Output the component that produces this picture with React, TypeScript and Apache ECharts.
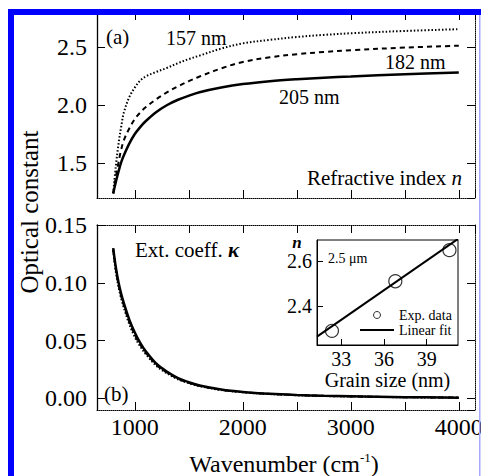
import React, { useEffect, useRef } from "react";
import * as echarts from "echarts";

// ---- data ----
const wavenumbers = [800, 825, 850, 875, 900, 950, 1000, 1050, 1100, 1200, 1300, 1400, 1500, 1600, 1800, 2000, 2250, 2500, 2750, 3000, 3500, 4000];
const n157 = [1.24, 1.48, 1.67, 1.82, 1.94, 2.07, 2.15, 2.21, 2.245, 2.285, 2.32, 2.36, 2.395, 2.425, 2.485, 2.53, 2.56, 2.585, 2.603, 2.617, 2.637, 2.652];
const n182 = [1.24, 1.38, 1.51, 1.62, 1.7, 1.8, 1.88, 1.935, 1.98, 2.05, 2.11, 2.16, 2.205, 2.245, 2.315, 2.37, 2.41, 2.437, 2.456, 2.471, 2.494, 2.51];
const n205 = [1.24, 1.34, 1.43, 1.51, 1.57, 1.67, 1.75, 1.81, 1.86, 1.94, 2.0, 2.045, 2.08, 2.11, 2.15, 2.18, 2.205, 2.222, 2.235, 2.245, 2.265, 2.28];
const k205 = [0.13, 0.113, 0.1, 0.09, 0.082, 0.068, 0.057, 0.048, 0.041, 0.03, 0.023, 0.0175, 0.014, 0.0112, 0.0077, 0.0056, 0.004, 0.003, 0.0023, 0.0018, 0.0011, 0.0007];
const k182 = [0.129, 0.111, 0.098, 0.088, 0.08, 0.066, 0.055, 0.0465, 0.0398, 0.0291, 0.0223, 0.017, 0.0136, 0.0109, 0.0075, 0.0055, 0.0039, 0.0029, 0.0022, 0.0017, 0.0011, 0.0007];
const k157 = [0.128, 0.109, 0.096, 0.086, 0.078, 0.064, 0.053, 0.045, 0.0385, 0.0282, 0.0216, 0.0165, 0.0132, 0.0106, 0.0073, 0.0053, 0.0038, 0.0028, 0.0021, 0.0017, 0.001, 0.0007];

const grainSizes = [32.35, 36.8, 40.6];
const nExp = [2.29, 2.51, 2.648];
const fitGrain = [31.3, 41.2];
const fitN = [2.264, 2.698];

const sizeLabels = ["157 nm", "182 nm", "205 nm"];
const inXTicks = [33, 36, 39];

const FONT = "Liberation Serif";

const pairs = (xs: number[], ys: number[]) => xs.map((x, i) => [x, ys[i]]);

const mainX = (gridIndex: number, position: string, showLabels: boolean) => ({
  type: "value",
  gridIndex,
  position,
  min: 650,
  max: 4150,
  splitNumber: 7,
  minInterval: 500,
  maxInterval: 500,
  axisLine: { show: true, onZero: false, lineStyle: { color: "#000", width: 1, type: [1, 1] } },
  axisTick: { show: true, inside: true, length: 8, lineStyle: { color: "#000", width: 1 } },
  axisLabel: {
    show: showLabels,
    showMinLabel: false,
    showMaxLabel: false,
    formatter: (v: number) => (v % 1000 === 0 ? String(v) : ""),
    fontSize: 24,
    fontFamily: FONT,
    color: "#000",
    margin: 5,
  },
  splitLine: { show: false },
});

const mainY = (
  gridIndex: number,
  position: string,
  min: number,
  max: number,
  step: number,
  digits: number,
  showLabels: boolean,
  showMax: boolean
) => ({
  type: "value",
  gridIndex,
  position,
  min,
  max,
  splitNumber: 4,
  minInterval: step,
  maxInterval: step,
  axisLine: {
    show: true,
    onZero: false,
    lineStyle: { color: "#000", width: position === "left" ? 1.3 : 1, type: position === "left" ? "solid" : [1, 1] },
  },
  axisTick: { show: true, inside: true, length: 8, lineStyle: { color: "#000", width: 1 } },
  axisLabel: {
    show: showLabels,
    showMinLabel: false,
    showMaxLabel: showMax,
    formatter: (v: number) => Math.abs(v).toFixed(digits),
    fontSize: 24,
    fontFamily: FONT,
    color: "#000",
    margin: 10,
  },
  splitLine: { show: false },
});

export default function App() {
  const ref = useRef<HTMLDivElement>(null);

  useEffect(() => {
    if (!ref.current) return;
    const chart = echarts.init(ref.current, undefined, { renderer: "svg" });

    const lineBase = {
      type: "line",
      showSymbol: false,
      symbol: "none",
      smooth: 0.35,
      animation: false,
    };

    const option: any = {
      animation: false,
      backgroundColor: "#fff",
      textStyle: { fontFamily: FONT, color: "#000" },
      grid: [
        { left: 97, top: 12, width: 378, height: 186, outerBoundsMode: "none" },
        { left: 97, top: 225, width: 378, height: 185, outerBoundsMode: "none" },
        {
          left: 317,
          top: 240,
          width: 141,
          height: 105,
          show: true,
          backgroundColor: "#fff",
          borderColor: "#000",
          borderWidth: 1,
          outerBoundsMode: "none",
          z: 5,
        },
      ],
      xAxis: [
        mainX(0, "bottom", false),
        mainX(0, "top", false),
        mainX(1, "bottom", true),
        mainX(1, "top", false),
        {
          type: "value",
          gridIndex: 2,
          position: "bottom",
          min: 31.3,
          max: 41.2,
          splitNumber: 3,
          minInterval: 3,
          maxInterval: 3,
          z: 6,
          name: "Grain size (nm)",
          nameLocation: "middle",
          nameGap: 25,
          nameTextStyle: { fontSize: 20, fontFamily: FONT, color: "#000" },
          axisLine: { show: true, onZero: false, lineStyle: { color: "#000", width: 1 } },
          axisTick: { show: true, inside: true, length: 6, lineStyle: { color: "#000" } },
          axisLabel: {
            showMinLabel: false,
            showMaxLabel: false,
            formatter: (v: number) => (inXTicks.includes(v) ? String(v) : ""),
            fontSize: 20,
            fontFamily: FONT,
            color: "#000",
            margin: 4,
          },
          splitLine: { show: false },
        },
      ],
      yAxis: [
        mainY(0, "left", 1.2, 2.8, 0.5, 1, true, false),
        mainY(0, "right", 1.2, 2.8, 0.5, 1, false, false),
        mainY(1, "left", -0.01, 0.15, 0.05, 2, true, true),
        mainY(1, "right", -0.01, 0.15, 0.05, 2, false, false),
        {
          type: "value",
          gridIndex: 2,
          position: "left",
          min: 2.227,
          max: 2.693,
          splitNumber: 2,
          minInterval: 0.2,
          maxInterval: 0.2,
          z: 6,
          axisLine: { show: true, onZero: false, lineStyle: { color: "#000", width: 1 } },
          axisTick: { show: true, inside: true, length: 6, lineStyle: { color: "#000" } },
          axisLabel: {
            showMinLabel: false,
            showMaxLabel: false,
            formatter: (v: number) => v.toFixed(1),
            fontSize: 20,
            fontFamily: FONT,
            color: "#000",
            margin: 5,
          },
          splitLine: { show: false },
        },
      ],
      legend: {
        data: [
          {
            name: "Exp. data",
            icon: "circle",
            itemStyle: { color: "rgba(255,255,255,0)", borderColor: "#000", borderWidth: 1 },
          },
          { name: "Linear fit", icon: "path://M0,0 L34,0 L34,2 L0,2 Z", itemStyle: { color: "#000" } },
        ],
        orient: "vertical",
        left: 360,
        top: 308,
        padding: 0,
        itemGap: 1,
        itemWidth: 34,
        itemHeight: 7,
        textStyle: { fontSize: 14, fontFamily: FONT, color: "#000" },
        z: 10,
      },
      series: [
        {
          ...lineBase,
          name: sizeLabels[0],
          xAxisIndex: 0,
          yAxisIndex: 0,
          data: pairs(wavenumbers, n157),
          lineStyle: { color: "#000", width: 2, type: [1.5, 2] },
        },
        {
          ...lineBase,
          name: sizeLabels[1],
          xAxisIndex: 0,
          yAxisIndex: 0,
          data: pairs(wavenumbers, n182),
          lineStyle: { color: "#000", width: 2, type: [5, 4] },
        },
        {
          ...lineBase,
          name: sizeLabels[2],
          xAxisIndex: 0,
          yAxisIndex: 0,
          data: pairs(wavenumbers, n205),
          lineStyle: { color: "#000", width: 2.5 },
        },
        {
          ...lineBase,
          name: "k157",
          xAxisIndex: 2,
          yAxisIndex: 2,
          data: pairs(wavenumbers, k157),
          lineStyle: { color: "#000", width: 2, type: [1.5, 2] },
        },
        {
          ...lineBase,
          name: "k182",
          xAxisIndex: 2,
          yAxisIndex: 2,
          data: pairs(wavenumbers, k182),
          lineStyle: { color: "#000", width: 2, type: [5, 4] },
        },
        {
          ...lineBase,
          name: "k205",
          xAxisIndex: 2,
          yAxisIndex: 2,
          data: pairs(wavenumbers, k205),
          lineStyle: { color: "#000", width: 2.5 },
        },
        {
          type: "line",
          name: "Linear fit",
          xAxisIndex: 4,
          yAxisIndex: 4,
          showSymbol: false,
          symbol: "none",
          data: pairs(fitGrain, fitN),
          lineStyle: { color: "#000", width: 2 },
          itemStyle: { color: "#000" },
          z: 7,
        },
        {
          type: "scatter",
          name: "Exp. data",
          xAxisIndex: 4,
          yAxisIndex: 4,
          symbol: "circle",
          symbolSize: 13,
          data: pairs(grainSizes, nExp),
          itemStyle: { color: "rgba(255,255,255,0)", borderColor: "#000", borderWidth: 1.2 },
          z: 8,
        },
      ],
      graphic: [
        { type: "text", x: 106, y: 37, style: { text: "(a)", fontSize: 21, fontFamily: FONT, fill: "#000", verticalAlign: "middle" } },
        { type: "text", x: 166, y: 38, style: { text: sizeLabels[0], fontSize: 20, fontFamily: FONT, fill: "#000", verticalAlign: "middle" } },
        { type: "text", x: 385, y: 62, style: { text: sizeLabels[1], fontSize: 20, fontFamily: FONT, fill: "#000", verticalAlign: "middle" } },
        { type: "text", x: 279, y: 97, style: { text: sizeLabels[2], fontSize: 20, fontFamily: FONT, fill: "#000", verticalAlign: "middle" } },
        {
          type: "text",
          x: 462,
          y: 178,
          style: {
            text: "{a|Refractive index }{i|n}",
            align: "right",
            verticalAlign: "middle",
            fontFamily: FONT,
            rich: {
              a: { fontSize: 21, fontFamily: FONT, color: "#000" },
              i: { fontSize: 21, fontFamily: FONT, fontStyle: "italic", color: "#000" },
            },
          },
        },
        {
          type: "text",
          x: 135,
          y: 250,
          style: {
            text: "{a|Ext. coeff. }{i|κ}",
            verticalAlign: "middle",
            fontFamily: FONT,
            rich: {
              a: { fontSize: 21, fontFamily: FONT, color: "#000" },
              i: { fontSize: 21, fontFamily: FONT, fontStyle: "italic", fontWeight: "bold", color: "#000" },
            },
          },
        },
        { type: "text", x: 104, y: 394, style: { text: "(b)", fontSize: 21, fontFamily: FONT, fill: "#000", verticalAlign: "middle" } },
        {
          type: "text",
          x: 297,
          y: 242,
          z: 20,
          style: { text: "n", fontSize: 17, fontFamily: FONT, fontStyle: "italic", fontWeight: "bold", fill: "#000", align: "center", verticalAlign: "middle" },
        },
        {
          type: "text",
          x: 328,
          y: 258,
          z: 20,
          style: { text: "2.5 μm", fontSize: 14, fontFamily: FONT, fill: "#000", verticalAlign: "middle" },
        },
        {
          type: "text",
          x: 29,
          y: 212,
          rotation: Math.PI / 2,
          style: { text: "Optical constant", fontSize: 25, fontFamily: FONT, fill: "#000", align: "center", verticalAlign: "middle" },
        },
        {
          type: "text",
          x: 284,
          y: 464,
          style: {
            text: "{a|Wavenumber (cm}{s|-1}{a|)}",
            align: "center",
            verticalAlign: "middle",
            fontFamily: FONT,
            rich: {
              a: { fontSize: 24, fontFamily: FONT, color: "#000", lineHeight: 26 },
              s: { fontSize: 13, fontFamily: FONT, color: "#000", verticalAlign: "top", lineHeight: 26 },
            },
          },
        },
        // blue frame of the figure
        { type: "rect", z: 50, shape: { x: 8, y: 9, width: 6, height: 467 }, style: { fill: "#0000ff" } },
        { type: "rect", z: 50, shape: { x: 8, y: 9, width: 473, height: 6 }, style: { fill: "#0000ff" } },
        { type: "rect", z: 50, shape: { x: 479, y: 15, width: 1.5, height: 461 }, style: { fill: "#a8a8ff" } },
      ],
    };

    chart.setOption(option);
    return () => chart.dispose();
  }, []);

  return (
    <div
      ref={ref}
      style={{ position: "fixed", left: 0, top: 0, width: 481, height: 476, background: "#fff" }}
    />
  );
}
